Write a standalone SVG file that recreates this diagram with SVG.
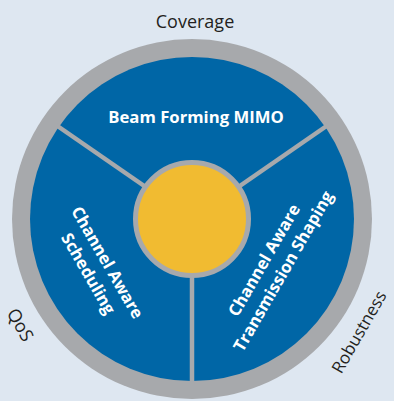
<svg xmlns="http://www.w3.org/2000/svg" width="394" height="401" viewBox="0 0 394 401">
<style>
.lbl{font-family:"Open Sans","Noto Sans",sans-serif;font-size:18px;fill:#231f20;text-anchor:middle}
.seg{font-family:"Open Sans","Noto Sans",sans-serif;font-size:16.7px;font-weight:bold;fill:#ffffff;text-anchor:middle}
.div{stroke:#a7a9ac;stroke-width:4.5;fill:none}
</style>
<rect x="0" y="0" width="394" height="401" fill="#dee7f1"/>
<g id="ring">
<circle cx="192" cy="219" r="180" fill="#a7a9ac"/>
<circle cx="192" cy="219" r="162" fill="#0066a6"/>
</g>
<g id="connectors">
<line class="div" x1="192" y1="219" x2="192" y2="385"/>
<line class="div" x1="192" y1="219" x2="56" y2="125"/>
<line class="div" x1="192" y1="219" x2="328" y2="125"/>
</g>
<g id="center">
<circle cx="192" cy="219" r="56.5" fill="#f1bb31" stroke="#a7a9ac" stroke-width="5"/>
</g>
<g id="beam">
<text class="seg" x="196" y="123">Beam Forming MIMO</text>
</g>
<g id="scheduling">
<text class="seg" transform="translate(98,268) rotate(60)"><tspan x="0" y="-5">Channel Aware</tspan><tspan x="0" y="17">Scheduling</tspan></text>
</g>
<g id="shaping">
<text class="seg" transform="translate(273.5,265.5) rotate(-60)"><tspan x="0" y="-5">Channel Aware</tspan><tspan x="0" y="17">Transmission Shaping</tspan></text>
</g>
<g id="coverage"><text class="lbl" x="195" y="28">Coverage</text></g>
<g id="qos"><text class="lbl" transform="translate(20,325) rotate(60)" y="6">QoS</text></g>
<g id="robustness"><text class="lbl" style="font-size:17px" transform="translate(359,332) rotate(-60)" y="6">Robustness</text></g>
</svg>
